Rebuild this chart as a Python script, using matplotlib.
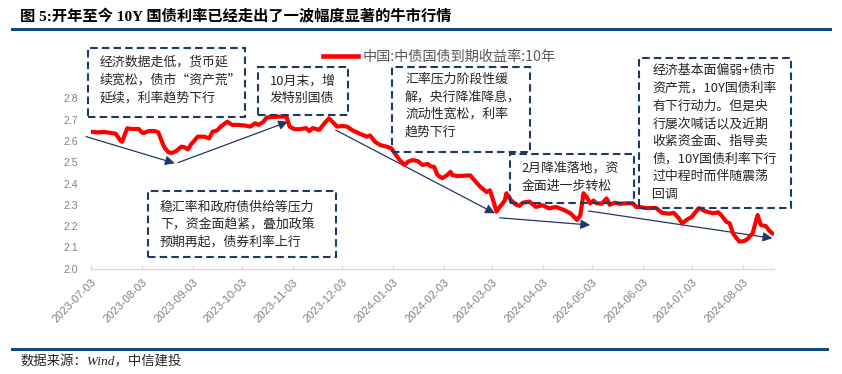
import matplotlib
matplotlib.use("Agg")
import matplotlib.pyplot as plt
import matplotlib.dates as mdates
from matplotlib.patches import Rectangle
from matplotlib.lines import Line2D
import pandas as pd

# ---------------- data ----------------
dates = [
    "2023-07-03", "2023-07-07", "2023-07-11", "2023-07-16", "2023-07-18", "2023-07-21", "2023-07-22",
    "2023-07-25", "2023-07-28", "2023-08-01", "2023-08-03", "2023-08-04", "2023-08-07", "2023-08-11",
    "2023-08-13", "2023-08-14", "2023-08-16", "2023-08-17", "2023-08-19", "2023-08-21", "2023-08-24",
    "2023-08-27", "2023-08-29", "2023-08-31", "2023-09-02", "2023-09-06", "2023-09-10", "2023-09-13",
    "2023-09-15", "2023-09-18", "2023-09-20", "2023-09-24", "2023-09-27", "2023-10-01", "2023-10-05",
    "2023-10-08", "2023-10-11", "2023-10-13", "2023-10-16", "2023-10-18", "2023-10-22", "2023-10-26",
    "2023-10-30", "2023-11-01", "2023-11-04", "2023-11-07", "2023-11-11", "2023-11-13", "2023-11-15",
    "2023-11-19", "2023-11-23", "2023-11-25", "2023-11-27", "2023-11-30", "2023-12-03", "2023-12-06",
    "2023-12-09", "2023-12-13", "2023-12-18", "2023-12-20", "2023-12-23", "2023-12-26", "2023-12-30",
    "2024-01-02", "2024-01-04", "2024-01-07", "2024-01-10", "2024-01-12", "2024-01-15", "2024-01-18",
    "2024-01-21", "2024-01-24", "2024-01-26", "2024-01-28", "2024-01-30", "2024-02-02", "2024-02-05",
    "2024-02-07", "2024-02-08", "2024-02-11", "2024-02-19", "2024-02-21", "2024-02-25", "2024-02-29",
    "2024-03-02", "2024-03-04", "2024-03-06", "2024-03-08", "2024-03-11", "2024-03-12", "2024-03-15",
    "2024-03-18", "2024-03-20", "2024-03-22", "2024-03-26", "2024-03-30", "2024-04-03", "2024-04-07",
    "2024-04-11", "2024-04-16", "2024-04-20", "2024-04-24", "2024-04-26", "2024-04-28", "2024-04-30",
    "2024-05-02", "2024-05-04", "2024-05-06", "2024-05-09", "2024-05-12", "2024-05-14", "2024-05-17",
    "2024-05-20", "2024-05-24", "2024-05-28", "2024-05-30", "2024-06-01", "2024-06-05", "2024-06-11",
    "2024-06-15", "2024-06-19", "2024-06-22", "2024-06-25", "2024-06-27", "2024-06-30", "2024-07-03",
    "2024-07-07", "2024-07-08", "2024-07-11", "2024-07-16", "2024-07-19", "2024-07-21", "2024-07-24",
    "2024-07-26", "2024-07-28", "2024-07-30", "2024-08-01", "2024-08-04", "2024-08-06", "2024-08-07",
    "2024-08-09", "2024-08-12", "2024-08-14", "2024-08-17", "2024-08-19", "2024-08-21",
]
yields = [
    2.643, 2.640, 2.642, 2.636, 2.634, 2.600, 2.596,
    2.659, 2.656, 2.656, 2.640, 2.637, 2.646, 2.646,
    2.640, 2.620, 2.580, 2.567, 2.548, 2.543, 2.553,
    2.573, 2.570, 2.560, 2.584, 2.620, 2.620, 2.612,
    2.643, 2.650, 2.667, 2.690, 2.675, 2.675, 2.672,
    2.667, 2.683, 2.675, 2.690, 2.710, 2.712, 2.714,
    2.714, 2.667, 2.655, 2.655, 2.660, 2.646, 2.660,
    2.652, 2.690, 2.706, 2.690, 2.667, 2.670, 2.667,
    2.651, 2.636, 2.620, 2.625, 2.596, 2.581, 2.573,
    2.565, 2.542, 2.510, 2.487, 2.502, 2.510, 2.505,
    2.487, 2.492, 2.480, 2.478, 2.440, 2.425, 2.440,
    2.455, 2.440, 2.435, 2.438, 2.420, 2.385, 2.360,
    2.368, 2.320, 2.268, 2.290, 2.320, 2.354, 2.320,
    2.300, 2.295, 2.310, 2.315, 2.290, 2.298, 2.283,
    2.290, 2.276, 2.260, 2.229, 2.250, 2.354, 2.335,
    2.307, 2.320, 2.307, 2.305, 2.330, 2.300, 2.310,
    2.305, 2.307, 2.307, 2.290, 2.290, 2.285, 2.285,
    2.262, 2.258, 2.262, 2.237, 2.213, 2.230, 2.244,
    2.283, 2.283, 2.270, 2.260, 2.265, 2.250, 2.220,
    2.213, 2.166, 2.145, 2.127, 2.130, 2.140, 2.150,
    2.166, 2.252, 2.205, 2.200, 2.180, 2.166,
]
series_name = "中国:中债国债到期收益率:10年"

tick_dates = ["2023-07-03", "2023-08-03", "2023-09-03", "2023-10-03", "2023-11-03",
              "2023-12-03", "2024-01-03", "2024-02-03", "2024-03-03", "2024-04-03",
              "2024-05-03", "2024-06-03", "2024-07-03", "2024-08-03"]
y_ticks = [2.0, 2.1, 2.2, 2.3, 2.4, 2.5, 2.6, 2.7, 2.8]

title = "图 5:开年至今 10Y 国债利率已经走出了一波幅度显著的牛市行情"
source = "数据来源：Wind，中信建投"

box_texts = [
    ["经济数据走低，货币延", "续宽松，债市“资产荒”", "延续，利率趋势下行"],
    ["10月末，增", "发特别国债"],
    ["汇率压力阶段性缓", "解，央行降准降息，", "流动性宽松，利率", "趋势下行"],
    ["2月降准落地，资", "金面进一步转松"],
    ["经济基本面偏弱+债市", "资产荒，10Y国债利率", "有下行动力。但是央", "行屡次喊话以及近期",
     "收紧资金面、指导卖", "债，10Y国债利率下行", "过中程时而伴随震荡", "回调"],
    ["稳汇率和政府债供给等压力", "下，资金面趋紧，叠加政策", "预期再起，债券利率上行"],
]

# arrow annotations (start date, start value, end date, end value)
arrow_start_dates = ["2023-06-30", "2023-08-25", "2023-11-29", "2024-03-08", "2024-05-01"]
arrow_start_vals = [2.620, 2.498, 2.651, 2.239, 2.271]
arrow_end_dates = ["2023-08-23", "2023-10-31", "2024-03-05", "2024-05-02", "2024-08-21"]
arrow_end_vals = [2.495, 2.690, 2.260, 2.205, 2.143]

# ---------------- layout (pixels) ----------------
W, H = 842, 374
box_px = [  # x0, y_top, x1, y_bottom
    (87.7, 47.7, 245.0, 117.3),
    (257.7, 66.7, 348.3, 115.0),
    (392.3, 67.0, 530.0, 151.7),
    (510.0, 154.0, 634.0, 202.7),
    (639.0, 58.0, 791.0, 207.7),
    (148.3, 191.0, 335.7, 257.3),
]
text_px = [  # left x, first line center y
    (100.0, 62.3), (270.0, 80.7), (405.0, 79.0),
    (521.7, 168.3), (652.3, 70.5), (160.0, 206.7),
]
line_step = 17.7

NAVY = "#1F3864"
RED = "#FF0000"
GRAY = "#808080"
RULE = "#0E4C7E"
CJK = ["Noto Sans CJK SC", "DejaVu Sans"]

def fx(px):
    return px / W

def fy(py):
    return 1 - py / H

plt.rcParams["font.family"] = CJK
fig = plt.figure(figsize=(W / 100, H / 100), dpi=100)
ax = fig.add_axes([fx(91), fy(268.7), (774 - 91) / W, (268.7 - 98.3) / H])

x = pd.to_datetime(dates)
ax.plot(x, yields, color=RED, lw=3.0, solid_joinstyle="round", zorder=5)

ax.set_xlim(pd.Timestamp("2023-07-03"), pd.Timestamp("2024-08-22"))
ax.set_ylim(2.0, 2.8)
ax.set_yticks(y_ticks)
ax.set_yticklabels([f"{v:.1f}" for v in y_ticks], family="Liberation Sans", fontsize=7.5, color=GRAY)
ax.tick_params(axis="y", length=0, pad=9.4)
ax.set_xticks(pd.to_datetime(tick_dates))
ax.set_xticklabels(tick_dates, rotation=45, ha="right", va="top", rotation_mode="anchor",
                   family="Liberation Sans", fontsize=8, color=GRAY)
ax.tick_params(axis="x", direction="in", length=3, color="#D9D9D9", pad=6)
for s in ["left", "right", "top"]:
    ax.spines[s].set_visible(False)
ax.spines["bottom"].set_color("#D9D9D9")
ax.spines["bottom"].set_linewidth(1.0)
ax.patch.set_alpha(0)

# arrows
for sd, sv, ed, ev in zip(arrow_start_dates, arrow_start_vals, arrow_end_dates, arrow_end_vals):
    ax.annotate("", xy=(mdates.date2num(pd.Timestamp(ed)), ev),
                xytext=(mdates.date2num(pd.Timestamp(sd)), sv),
                arrowprops=dict(arrowstyle="-|>", color=NAVY, lw=0.9, mutation_scale=14,
                                shrinkA=0, shrinkB=0),
                annotation_clip=False, zorder=3)

# boxes with text
for (x0, y0, x1, y1), (tx, ty), lines in zip(box_px, text_px, box_texts):
    fig.patches.append(Rectangle((fx(x0), fy(y1)), (x1 - x0) / W, (y1 - y0) / H,
                                 transform=fig.transFigure, fill=False, edgecolor=NAVY,
                                 lw=1.5, linestyle=(0, (3.6, 2.0)), zorder=1))
    for i, ln in enumerate(lines):
        fig.text(fx(tx), fy(ty + i * line_step), ln, ha="left", va="center",
                 fontsize=9.3, color="#262626", family=CJK)

# legend
handle = Line2D([], [], color=RED, lw=3.3)
fig.legend([handle], [series_name], loc="center left", bbox_to_anchor=(fx(323), fy(57)),
           frameon=False, borderpad=0, borderaxespad=0, handlelength=2.45, handletextpad=0.35,
           prop={"family": CJK, "size": 10.2}, labelcolor="#595959")

# title & rules
fig.text(fx(20.5), fy(16.5), title, ha="left", va="center", fontsize=11.0, fontweight="bold",
         color="black", family=["Liberation Serif", "Noto Sans CJK SC"])
fig.add_artist(Line2D([fx(11.5), fx(830)], [fy(29), fy(29)], color=RULE, lw=2.2,
                      transform=fig.transFigure))
fig.add_artist(Line2D([fx(11.5), fx(827)], [fy(349), fy(349)], color=RULE, lw=2.2,
                      transform=fig.transFigure))
fig.text(fx(21), fy(362), source, ha="left", va="center", fontsize=9.6, style="italic",
         color="#262626", family=["Liberation Serif", "Noto Sans CJK SC"])

fig.savefig("out.png", dpi=100)
